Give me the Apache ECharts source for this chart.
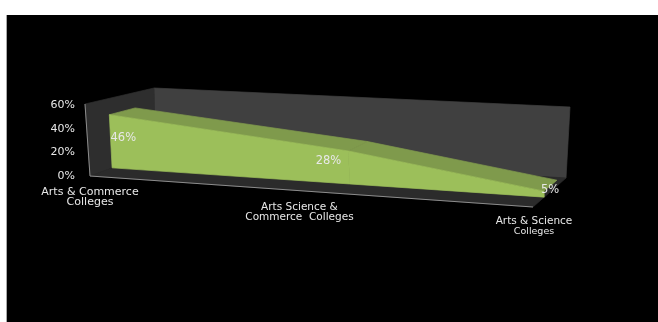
<!DOCTYPE html>
<html>
<head>
<meta charset="utf-8">
<style>html,body{margin:0;padding:0;background:#fff}#chart{width:658px;height:322px}</style>
<script src="https://cdn.jsdelivr.net/npm/echarts@6/dist/echarts.min.js"></script>
</head>
<body>
<div id="chart"></div>
<script>
const categories = ['Arts & Commerce\nColleges', 'Arts Science &\nCommerce  Colleges', 'Arts & Science\nColleges'];
const shares = [46, 28, 5];
const axisMax = 60;
const axisStep = 20;

// Oblique box the chart sits in: the grid is the front plane, and these
// corners say where its floor and verticals land on the page.
const box = {
  frontL: [90, 176], frontR: [533, 207],
  backL: [155, 152], backR: [566, 178],
  riseFrontL: [-5, -72], riseFrontR: [-4, -72],
  riseBackL: [-1, -64], riseBackR: [4, -71],
  foreshorten: 1.22
};
const grid = { left: 90, top: 105, width: 443, height: 71 };
const slabFront = 0.34, slabBack = 0.72;

const mix = (a, b, t) => [a[0] + (b[0] - a[0]) * t, a[1] + (b[1] - a[1]) * t];

// Project a grid pixel at a given depth (0 front, 1 back) into the box.
function project(pt, depth) {
  const u = (pt[0] - grid.left) / grid.width;
  const h = (grid.top + grid.height - pt[1]) / grid.height;
  const w = u * box.foreshorten / (1 + u * (box.foreshorten - 1));
  const floor = mix(mix(box.frontL, box.frontR, w), mix(box.backL, box.backR, w), depth);
  const rise = mix(mix(box.riseFrontL, box.riseFrontR, w), mix(box.riseBackL, box.riseBackR, w), depth);
  return [floor[0] + rise[0] * h, floor[1] + rise[1] * h];
}
const poly = (points, fill, z2) => ({
  type: 'polygon', z2, shape: { points }, style: { fill, stroke: fill, lineWidth: 0.7 }
});

function renderShell(params, api) {
  const last = categories.length - 1;
  const a0 = api.coord([0, 0]), a1 = api.coord([0, axisMax]);
  const b0 = api.coord([last, 0]), b1 = api.coord([last, axisMax]);
  return {
    type: 'group',
    children: [
      poly([project(a0, 1), project(b0, 1), project(b1, 1), project(a1, 1)], '#404040', 1),
      poly([project(a0, 0), project(a0, 1), project(a1, 1), project(a1, 0)], '#2e2e2e', 2),
      poly([project(a0, 0), project(b0, 0), project(b0, 1), project(a0, 1)], '#2b2b2b', 2),
      { type: 'polyline', z2: 3, shape: { points: [project(a1, 0), project(a0, 0), project(b0, 0)] },
        style: { stroke: '#8c8c8c', lineWidth: 1, fill: null } }
    ]
  };
}

function renderSlab(params, api) {
  const i = params.dataIndex;
  if (i >= shares.length - 1) return { type: 'group', children: [] };
  const p = api.coord([i, shares[i]]), q = api.coord([i + 1, shares[i + 1]]);
  const p0 = api.coord([i, 0]), q0 = api.coord([i + 1, 0]);
  return {
    type: 'group',
    children: [
      poly([project(p, slabFront), project(q, slabFront), project(q, slabBack), project(p, slabBack)], '#7f9a4c', 1),
      poly([project(p0, slabFront), project(q0, slabFront), project(q, slabFront), project(p, slabFront)], '#9cbf5a', 2)
    ]
  };
}

const valueNudge = [[14, 23], [-20, 10], [6, -1]];
const nameNudge = [[0, 21], [-34, 19], [1, 19]];
const nameFont = ['11px "DejaVu Sans"', '10.5px "DejaVu Sans"', '10.5px "DejaVu Sans"'];

function renderText(params, api) {
  const i = params.dataIndex;
  const top = project(api.coord([i, shares[i]]), slabFront);
  const base = project(api.coord([i, 0]), 0);
  const [first, second] = categories[i].split('\n');
  const text = (s, x, y, font) => ({
    type: 'text', style: { text: s, x, y, fill: '#e8e8e8', font, align: 'center', verticalAlign: 'middle' }
  });
  return {
    type: 'group',
    children: [
      text(shares[i] + '%', top[0] + valueNudge[i][0], top[1] + valueNudge[i][1], '11.5px "DejaVu Sans"'),
      text(first, base[0] + nameNudge[i][0], base[1] + nameNudge[i][1] - 5, nameFont[i]),
      text(second, base[0] + nameNudge[i][0], base[1] + nameNudge[i][1] + 5.5,
        i === categories.length - 1 ? '9.5px "DejaVu Sans"' : nameFont[i])
    ]
  };
}

const points = shares.map((v, i) => [i, v]);
const chart = echarts.init(document.getElementById('chart'), null, { renderer: 'canvas' });
chart.setOption({
  animation: false,
  backgroundColor: '#ffffff',
  graphic: [
    { type: 'rect', z: -10, silent: true, shape: { x: 7, y: 15, width: 651, height: 307 }, style: { fill: '#000000' } },
    { type: 'rect', z: -10, silent: true, shape: { x: 6, y: 15, width: 1, height: 307 }, style: { fill: '#a8a8a8' } }
  ],
  grid,
  xAxis: { type: 'category', data: categories, boundaryGap: false, show: false },
  yAxis: {
    type: 'value', min: 0, max: axisMax, interval: axisStep,
    axisLine: { show: false }, axisTick: { show: false }, splitLine: { show: false },
    axisLabel: { color: '#e8e8e8', fontFamily: 'DejaVu Sans', fontSize: 11, margin: 15, formatter: '{value}%' }
  },
  series: [
    { type: 'custom', z: 2, clip: false, data: [points[0]], renderItem: renderShell, silent: true },
    { type: 'custom', z: 3, clip: false, data: points, renderItem: renderSlab, silent: true },
    { type: 'custom', z: 4, clip: false, data: points, renderItem: renderText, silent: true }
  ]
});
</script>
</body>
</html>
